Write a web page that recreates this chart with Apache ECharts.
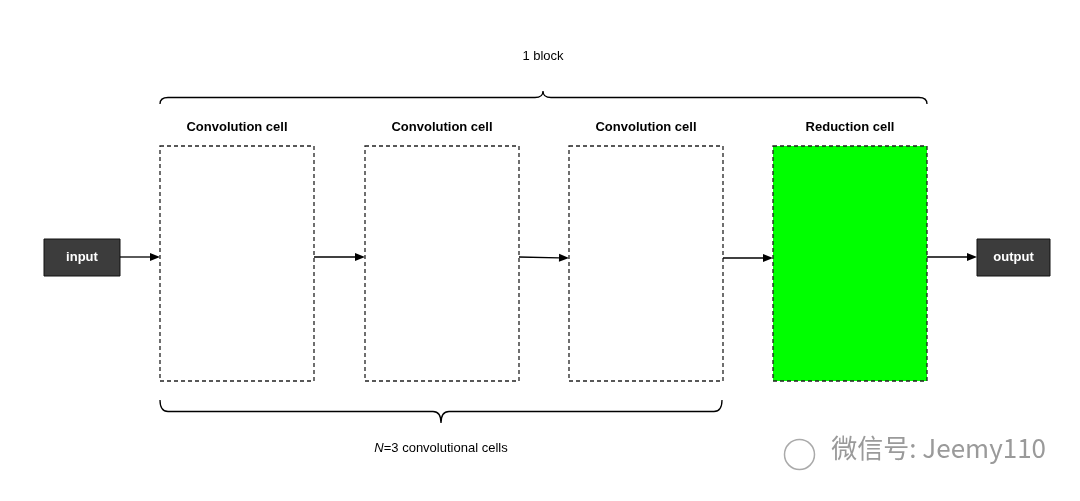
<!DOCTYPE html>
<html><head><meta charset="utf-8">
<script src="https://cdn.jsdelivr.net/npm/echarts@6/dist/echarts.min.js"></script>
<style>html,body{margin:0;padding:0;background:#fff}#c{width:1080px;height:501px}</style>
</head><body><div id="c"></div>
<script>
// Diagram-space values (x0, x1, y0, y1)
const cellNames = ['Convolution cell','Convolution cell','Convolution cell','Reduction cell'];
const cellBoxes = [[160,314,146,381],[365,519,146,381],[569,723,146,381],[773,927,146,381]];
const cellFill = ['none','none','none','#00ff00'];
const ioNames = ['input','output'];
const ioBoxes = [[44,120,239,276],[977,1050,239,276]];
const arrows = [[120,257,160,257],[314,257,365,257],[519,257,569,258],[723,258,773,258],[927,257,977,257]];
const braces = [[160,927,543,104,91,'1 block',56],[160,722,441,400,423,'N=3 convolutional cells',448]];

const chart = echarts.init(document.getElementById('c'));
function P(api,x,y){return api.coord([x,y]);}
chart.setOption({
  animation:false,
  grid:{left:0,right:0,top:0,bottom:0},
  xAxis:{type:'value',min:0,max:1080,show:false},
  yAxis:{type:'value',min:0,max:501,inverse:true,show:false},
  series:[
    {type:'custom',data:cellBoxes.map((b,i)=>[i]),renderItem:(p,api)=>{
      const b=cellBoxes[p.dataIndex];const a=P(api,b[0],b[2]),c=P(api,b[1],b[3]);
      return {type:'group',children:[
        {type:'rect',shape:{x:a[0],y:a[1],width:c[0]-a[0],height:c[1]-a[1]},
         style:{fill:cellFill[p.dataIndex]==='none'?'transparent':cellFill[p.dataIndex],stroke:'#222',lineWidth:1.3,lineDash:[4,3]}},
        {type:'text',style:{text:cellNames[p.dataIndex],x:(a[0]+c[0])/2,y:a[1]-19,align:'center',verticalAlign:'middle',
          font:'bold 13px Arial, Liberation Sans',fill:'#000'}}]};
    }},
    {type:'custom',data:ioBoxes.map((b,i)=>[i]),renderItem:(p,api)=>{
      const b=ioBoxes[p.dataIndex];const a=P(api,b[0],b[2]),c=P(api,b[1],b[3]);
      return {type:'group',children:[
        {type:'rect',shape:{x:a[0],y:a[1],width:c[0]-a[0],height:c[1]-a[1]},style:{fill:'#3c3c3c',stroke:'#111',lineWidth:1}},
        {type:'text',style:{text:ioNames[p.dataIndex],x:(a[0]+c[0])/2,y:(a[1]+c[1])/2,align:'center',verticalAlign:'middle',
          font:'bold 13px Arial, Liberation Sans',fill:'#fff'}}]};
    }},
    {type:'custom',data:arrows.map((b,i)=>[i]),renderItem:(p,api)=>{
      const r=arrows[p.dataIndex];const a=P(api,r[0],r[1]),c=P(api,r[2],r[3]);
      const ang=Math.atan2(c[1]-a[1],c[0]-a[0]),L=10,W=4;
      const bx=c[0]-L*Math.cos(ang),by=c[1]-L*Math.sin(ang);
      return {type:'group',children:[
        {type:'line',shape:{x1:a[0],y1:a[1],x2:bx,y2:by},style:{stroke:'#000',lineWidth:1.3}},
        {type:'polygon',shape:{points:[[c[0],c[1]],[bx-W*Math.sin(ang),by+W*Math.cos(ang)],[bx+W*Math.sin(ang),by-W*Math.cos(ang)]]},style:{fill:'#000'}}]};
    }},
    {type:'custom',data:braces.map((b,i)=>[i]),renderItem:(p,api)=>{
      const b=braces[p.dataIndex];const x0=b[0],x1=b[1],t=b[2],ye=b[3],yt=b[4];const ym=(ye+yt)/2;
      const q=(x,y)=>P(api,x,y).join(',');const r=8;
      const path='M'+q(x0,ye)+' Q'+q(x0,ym)+' '+q(x0+r,ym)+' L'+q(t-r,ym)+' Q'+q(t,ym)+' '+q(t,yt)+
        ' Q'+q(t,ym)+' '+q(t+r,ym)+' L'+q(x1-r,ym)+' Q'+q(x1,ym)+' '+q(x1,ye);
      const tp=P(api,t,b[6]);
      const txt=p.dataIndex===1?{type:'text',style:{text:'{i|N}=3 convolutional cells',x:tp[0],y:tp[1],align:'center',verticalAlign:'middle',
          font:'13px Arial, Liberation Sans',fill:'#000',rich:{i:{fontStyle:'italic',fontSize:13,fontFamily:'Arial, Liberation Sans'}}}}
        :{type:'text',style:{text:b[5],x:tp[0],y:tp[1],align:'center',verticalAlign:'middle',font:'13px Arial, Liberation Sans',fill:'#000'}};
      return {type:'group',children:[{type:'path',shape:{pathData:path},style:{fill:'none',stroke:'#000',lineWidth:1.3}},txt]};
    }}
  ],
  graphic:[{type:'text',right:34,top:435,style:{text:'微信号: Jeemy110',font:'26px "Noto Sans CJK SC", sans-serif',fill:'#9a9a9a'}},
    {type:'circle',left:782,top:437,shape:{r:15},style:{fill:'none',stroke:'#aaa',lineWidth:1.5}}]
});
</script></body></html>
